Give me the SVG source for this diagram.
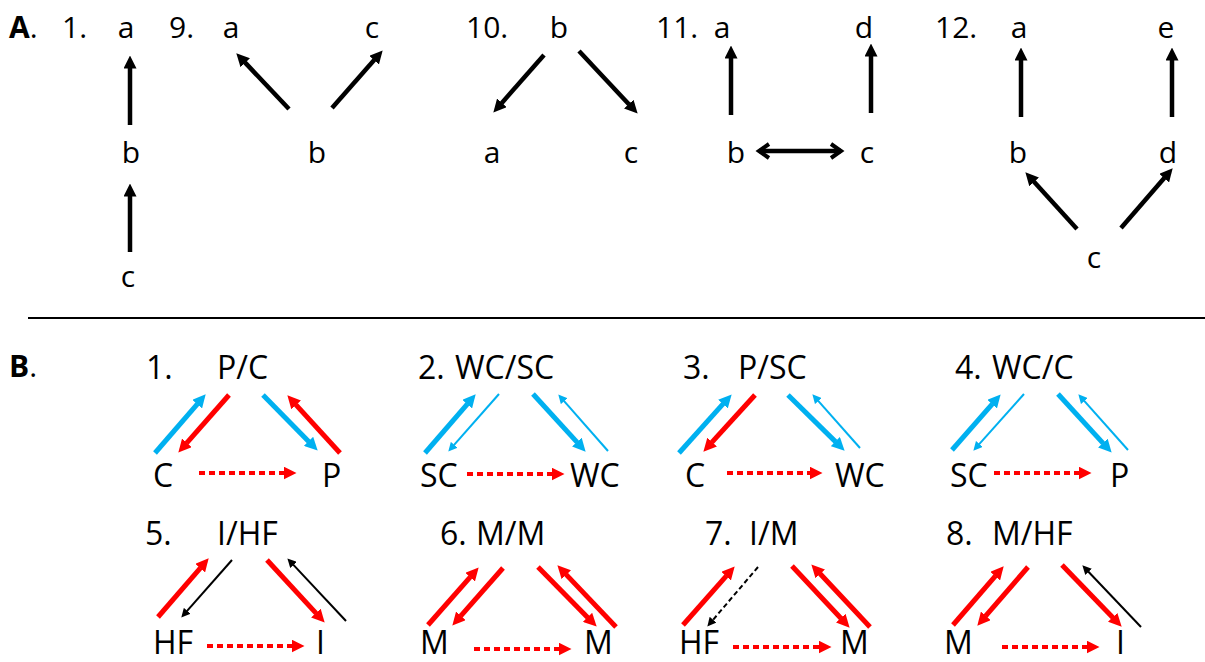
<svg xmlns="http://www.w3.org/2000/svg" width="1205" height="662" viewBox="0 0 1205 662">
  <style>
    text { font-family: "Open Sans", "Liberation Sans", sans-serif; fill: #000; }
    .a { font-size: 30px; }
    .ac { font-size: 30px; text-anchor: middle; }
    .b { font-size: 32px; }
    .hd { font-weight: bold; font-size: 30px; }
    .k { stroke: #000; stroke-width: 4.5; fill: none; }
    .bt { stroke: #00B0F0; stroke-width: 5; fill: none; }
    .bs { stroke: #00B0F0; stroke-width: 2; fill: none; }
    .rt { stroke: #FF0000; stroke-width: 5; fill: none; }
    .ks { stroke: #000; stroke-width: 2; fill: none; }
    .kd { stroke: #000; stroke-width: 2; fill: none; stroke-dasharray: 5 3; }
    .rd { stroke: #FF0000; stroke-width: 4; fill: none; stroke-dasharray: 6 4; }
  </style>
  <defs>
    <marker id="hk" markerUnits="userSpaceOnUse" markerWidth="13" markerHeight="13" viewBox="0 0 13 13" refX="0.5" refY="6.5" orient="auto">
      <path d="M0,0 L13,6.5 L0,13 z" fill="#000"/>
    </marker>
    <marker id="hb" markerUnits="userSpaceOnUse" markerWidth="13" markerHeight="13" viewBox="0 0 13 13" refX="0.5" refY="6.5" orient="auto">
      <path d="M0,0 L13,6.5 L0,13 z" fill="#00B0F0"/>
    </marker>
    <marker id="hr" markerUnits="userSpaceOnUse" markerWidth="13" markerHeight="13" viewBox="0 0 13 13" refX="0.5" refY="6.5" orient="auto">
      <path d="M0,0 L13,6.5 L0,13 z" fill="#FF0000"/>
    </marker>
    <marker id="hbs" markerUnits="userSpaceOnUse" markerWidth="9" markerHeight="9" viewBox="0 0 9 9" refX="0.5" refY="4.5" orient="auto">
      <path d="M0,0 L9,4.5 L0,9 z" fill="#00B0F0"/>
    </marker>
    <marker id="hks" markerUnits="userSpaceOnUse" markerWidth="9" markerHeight="9" viewBox="0 0 9 9" refX="0.5" refY="4.5" orient="auto">
      <path d="M0,0 L9,4.5 L0,9 z" fill="#000"/>
    </marker>
    <marker id="hrd" markerUnits="userSpaceOnUse" markerWidth="13" markerHeight="13" viewBox="0 0 13 13" refX="0.5" refY="6.5" orient="auto">
      <path d="M0,0 L13,6.5 L0,13 z" fill="#FF0000"/>
    </marker>
    <marker id="ho" markerUnits="userSpaceOnUse" markerWidth="18" markerHeight="22" viewBox="-4 -4 18 22" refX="10" refY="7" orient="auto-start-reverse">
      <path d="M0,0 L10,7 L0,14" fill="none" stroke="#000" stroke-width="4"/>
    </marker>
  </defs>

  <!-- panel A -->
  <g id="labelA"><text x="9" y="38"><tspan class="hd">A</tspan><tspan class="a">.</tspan></text></g>
  <g id="n1"><text class="a" x="62" y="38">1.</text></g>
  <g id="n1a"><text class="ac" x="126" y="38">a</text></g>
  <g id="n1b"><text class="ac" x="131" y="163">b</text></g>
  <g id="n1c"><text class="ac" x="128" y="287">c</text></g>

  <g id="n9"><text class="a" x="169" y="38">9.</text></g>
  <g id="n9a"><text class="ac" x="231" y="38">a</text></g>
  <g id="n9c"><text class="ac" x="372" y="38">c</text></g>
  <g id="n9b"><text class="ac" x="317" y="163">b</text></g>

  <g id="n10"><text class="a" x="466" y="38">10.</text></g>
  <g id="n10b"><text class="ac" x="559" y="38">b</text></g>
  <g id="n10a"><text class="ac" x="492" y="163">a</text></g>
  <g id="n10c"><text class="ac" x="631" y="163">c</text></g>

  <g id="n11"><text class="a" x="656" y="38">11.</text></g>
  <g id="n11a"><text class="ac" x="722" y="38">a</text></g>
  <g id="n11d"><text class="ac" x="864" y="38">d</text></g>
  <g id="n11b"><text class="ac" x="736" y="163">b</text></g>
  <g id="n11c"><text class="ac" x="867" y="163">c</text></g>

  <g id="n12"><text class="a" x="935" y="38">12.</text></g>
  <g id="n12a"><text class="ac" x="1019" y="38">a</text></g>
  <g id="n12e"><text class="ac" x="1166" y="38">e</text></g>
  <g id="n12b"><text class="ac" x="1018" y="163">b</text></g>
  <g id="n12d"><text class="ac" x="1168" y="163">d</text></g>
  <g id="n12c"><text class="ac" x="1094" y="268">c</text></g>

  <!-- divider -->
  <line id="divider" x1="28" y1="318" x2="1205" y2="318" stroke="#000" stroke-width="2"/>

  <!-- panel B -->
  <g id="labelB"><text x="9" y="377"><tspan class="hd">B</tspan><tspan class="a">.</tspan></text></g>

  <g id="t1"><text class="b" x="146" y="379">1.</text><text class="b" x="217" y="379">P/C</text></g>
  <g id="t1l"><text class="b" x="153" y="487">C</text></g>
  <g id="t1r"><text class="b" x="322" y="487">P</text></g>

  <g id="t2"><text class="b" x="418" y="379">2.</text><text class="b" x="455" y="379">WC/SC</text></g>
  <g id="t2l"><text class="b" x="420" y="487">SC</text></g>
  <g id="t2r"><text class="b" x="570" y="487">WC</text></g>

  <g id="t3"><text class="b" x="683" y="379">3.</text><text class="b" x="738" y="379">P/SC</text></g>
  <g id="t3l"><text class="b" x="685" y="487">C</text></g>
  <g id="t3r"><text class="b" x="835" y="487">WC</text></g>

  <g id="t4"><text class="b" x="955" y="379">4.</text><text class="b" x="992" y="379">WC/C</text></g>
  <g id="t4l"><text class="b" x="950" y="487">SC</text></g>
  <g id="t4r"><text class="b" x="1110" y="487">P</text></g>

  <g id="t5"><text class="b" x="145" y="545">5.</text><text class="b" x="217" y="545">I/HF</text></g>
  <g id="t5l"><text class="b" x="153" y="654">HF</text></g>
  <g id="t5r"><text class="b" x="316" y="654">I</text></g>

  <g id="t6"><text class="b" x="440" y="545">6.</text><text class="b" x="476" y="545">M/M</text></g>
  <g id="t6l"><text class="b" x="420" y="654">M</text></g>
  <g id="t6r"><text class="b" x="584" y="654">M</text></g>

  <g id="t7"><text class="b" x="705" y="545">7.</text><text class="b" x="749" y="545">I/M</text></g>
  <g id="t7l"><text class="b" x="679" y="654">HF</text></g>
  <g id="t7r"><text class="b" x="840" y="654">M</text></g>

  <g id="t8"><text class="b" x="946" y="545">8.</text><text class="b" x="992" y="545">M/HF</text></g>
  <g id="t8l"><text class="b" x="944" y="654">M</text></g>
  <g id="t8r"><text class="b" x="1116" y="654">I</text></g>

  <!-- connectors -->
  <g id="connectors">
    <!-- A1 -->
    <line class="k" x1="130" y1="125" x2="130" y2="68" marker-end="url(#hk)"/>
    <line class="k" x1="130" y1="252" x2="130" y2="196" marker-end="url(#hk)"/>
    <!-- A9 -->
    <line class="k" x1="289" y1="109" x2="244.9" y2="62.4" marker-end="url(#hk)"/>
    <line class="k" x1="332" y1="108" x2="374.4" y2="59.8" marker-end="url(#hk)"/>
    <!-- A10 -->
    <line class="k" x1="544" y1="55" x2="501.6" y2="103.2" marker-end="url(#hk)"/>
    <line class="k" x1="579" y1="51" x2="629.1" y2="104.5" marker-end="url(#hk)"/>
    <!-- A11 -->
    <line class="k" x1="731" y1="115" x2="731" y2="58" marker-end="url(#hk)"/>
    <line class="k" x1="871" y1="113" x2="871" y2="56" marker-end="url(#hk)"/>
    <line class="k" x1="759" y1="151" x2="841" y2="151" marker-start="url(#ho)" marker-end="url(#ho)"/>
    <!-- A12 -->
    <line class="k" x1="1021" y1="117" x2="1021" y2="60" marker-end="url(#hk)"/>
    <line class="k" x1="1172" y1="117" x2="1172" y2="60" marker-end="url(#hk)"/>
    <line class="k" x1="1077" y1="229" x2="1033.8" y2="181.6" marker-end="url(#hk)"/>
    <line class="k" x1="1121" y1="228" x2="1164.5" y2="177.8" marker-end="url(#hk)"/>

    <!-- B1 -->
    <line class="bt" x1="155" y1="453" x2="197.5" y2="403.8" marker-end="url(#hb)"/>
    <line class="rt" x1="229" y1="395" x2="186.6" y2="443.2" marker-end="url(#hr)"/>
    <line class="bt" x1="263" y1="395" x2="308.9" y2="441.7" marker-end="url(#hb)"/>
    <line class="rt" x1="340" y1="453" x2="295.8" y2="404.6" marker-end="url(#hr)"/>
    <line class="rd" x1="199" y1="473" x2="284" y2="473" marker-end="url(#hrd)"/>
    <!-- B2 -->
    <line class="bt" x1="425" y1="453" x2="467.5" y2="403.8" marker-end="url(#hb)"/>
    <line class="bs" x1="499" y1="394" x2="453.9" y2="445.2" marker-end="url(#hbs)"/>
    <line class="bt" x1="533" y1="394" x2="577.2" y2="442.4" marker-end="url(#hb)"/>
    <line class="bs" x1="608" y1="451" x2="563.9" y2="400.8" marker-end="url(#hbs)"/>
    <line class="rd" x1="467" y1="474" x2="552" y2="474" marker-end="url(#hrd)"/>
    <!-- B3 -->
    <line class="bt" x1="679" y1="453" x2="723.3" y2="403.7" marker-end="url(#hb)"/>
    <line class="rt" x1="755" y1="395" x2="711.8" y2="442.4" marker-end="url(#hr)"/>
    <line class="bt" x1="788" y1="395" x2="835.7" y2="441.9" marker-end="url(#hb)"/>
    <line class="bs" x1="860" y1="448" x2="818" y2="400.7" marker-end="url(#hbs)"/>
    <line class="rd" x1="727" y1="473" x2="810" y2="473" marker-end="url(#hrd)"/>
    <!-- B4 -->
    <line class="bt" x1="952" y1="450" x2="992.4" y2="403.8" marker-end="url(#hb)"/>
    <line class="bs" x1="1024" y1="394" x2="979" y2="444.3" marker-end="url(#hbs)"/>
    <line class="bt" x1="1058" y1="394" x2="1103.2" y2="443.4" marker-end="url(#hb)"/>
    <line class="bs" x1="1128" y1="450" x2="1084" y2="400.7" marker-end="url(#hbs)"/>
    <line class="rd" x1="994" y1="473" x2="1079" y2="473" marker-end="url(#hrd)"/>
    <!-- B5 -->
    <line class="rt" x1="158" y1="617" x2="200.5" y2="567.8" marker-end="url(#hr)"/>
    <line class="ks" x1="232" y1="560" x2="186.9" y2="611.2" marker-end="url(#hks)"/>
    <line class="rt" x1="267" y1="560" x2="316.2" y2="613.4" marker-end="url(#hr)"/>
    <line class="ks" x1="346" y1="621" x2="293.2" y2="564.6" marker-end="url(#hks)"/>
    <line class="rd" x1="207" y1="646" x2="292" y2="646" marker-end="url(#hrd)"/>
    <!-- B6 -->
    <line class="rt" x1="428" y1="625" x2="470.4" y2="576.8" marker-end="url(#hr)"/>
    <line class="rt" x1="503" y1="568" x2="460.6" y2="616.2" marker-end="url(#hr)"/>
    <line class="rt" x1="538" y1="567" x2="587.9" y2="617.7" marker-end="url(#hr)"/>
    <line class="rt" x1="616" y1="627" x2="566" y2="574.4" marker-end="url(#hr)"/>
    <line class="rd" x1="474" y1="649" x2="559" y2="649" marker-end="url(#hrd)"/>
    <!-- B7 -->
    <line class="rt" x1="683" y1="625" x2="726.4" y2="575.8" marker-end="url(#hr)"/>
    <line class="kd" x1="758" y1="567" x2="712.8" y2="620.1" marker-end="url(#hks)"/>
    <line class="rt" x1="792" y1="566" x2="841.1" y2="618.5" marker-end="url(#hr)"/>
    <line class="rt" x1="870" y1="627" x2="819.9" y2="573.5" marker-end="url(#hr)"/>
    <line class="rd" x1="733" y1="647" x2="819" y2="647" marker-end="url(#hrd)"/>
    <!-- B8 -->
    <line class="rt" x1="953" y1="625" x2="995.5" y2="575.8" marker-end="url(#hr)"/>
    <line class="rt" x1="1028" y1="567" x2="985.5" y2="616.2" marker-end="url(#hr)"/>
    <line class="rt" x1="1062" y1="565" x2="1113" y2="617.7" marker-end="url(#hr)"/>
    <line class="ks" x1="1141" y1="627" x2="1088.2" y2="571.5" marker-end="url(#hks)"/>
    <line class="rd" x1="1002" y1="647" x2="1087" y2="647" marker-end="url(#hrd)"/>
  </g>
</svg>
